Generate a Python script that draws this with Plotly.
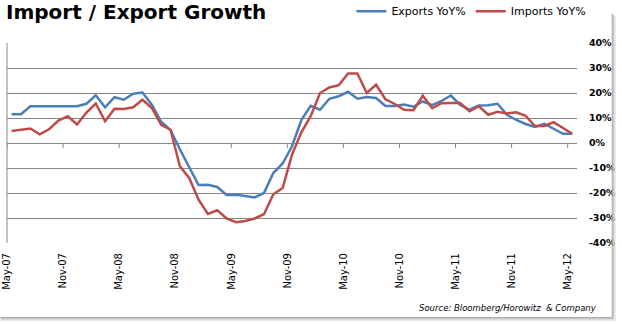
import plotly.graph_objects as go

# Monthly year-over-year growth, May-07 .. May-12
months = ["May-07", "Jun-07", "Jul-07", "Aug-07", "Sep-07", "Oct-07", "Nov-07", "Dec-07",
          "Jan-08", "Feb-08", "Mar-08", "Apr-08", "May-08", "Jun-08", "Jul-08", "Aug-08",
          "Sep-08", "Oct-08", "Nov-08", "Dec-08", "Jan-09", "Feb-09", "Mar-09", "Apr-09",
          "May-09", "Jun-09", "Jul-09", "Aug-09", "Sep-09", "Oct-09", "Nov-09", "Dec-09",
          "Jan-10", "Feb-10", "Mar-10", "Apr-10", "May-10", "Jun-10", "Jul-10", "Aug-10",
          "Sep-10", "Oct-10", "Nov-10", "Dec-10", "Jan-11", "Feb-11", "Mar-11", "Apr-11",
          "May-11", "Jun-11", "Jul-11", "Aug-11", "Sep-11", "Oct-11", "Nov-11", "Dec-11",
          "Jan-12", "Feb-12", "Mar-12", "Apr-12", "May-12"]

exports_yoy = [11.5, 11.5, 14.7, 14.7, 14.8, 14.9, 15.0, 14.7, 15.7, 19.1,
               14.3, 18.3, 17.3, 19.7, 20.2, 15.3, 8.5, 5.2, -2.5, -9.5,
               -16.8, -16.7, -17.6, -20.8, -20.7, -21.2, -21.8, -20.0, -12.0, -8.2,
               -1.3, 9.2, 14.9, 13.3, 17.7, 18.7, 20.5, 17.7, 18.4, 18.0,
               14.8, 14.8, 15.4, 14.5, 16.6, 15.1, 16.8, 19.0, 15.2, 13.3,
               15.0, 15.1, 15.7, 11.3, 9.2, 7.6, 6.4, 7.7, 5.6, 3.7, 3.7]

imports_yoy = [4.8, 5.4, 5.8, 3.5, 5.5, 9.0, 10.7, 7.4, 12.2, 15.8,
               8.7, 13.7, 13.6, 14.3, 17.3, 14.0, 7.3, 5.3, -9.3, -14.0,
               -22.7, -28.4, -26.9, -30.2, -31.7, -31.2, -30.2, -28.5, -20.5, -18.0,
               -4.7, 4.3, 10.7, 20.0, 22.2, 23.1, 27.8, 27.8, 20.0, 23.3,
               17.5, 15.6, 13.3, 13.1, 18.9, 13.9, 15.9, 16.0, 16.0, 12.7,
               14.7, 11.3, 12.5, 11.8, 12.3, 10.9, 6.8, 6.8, 8.3, 6.0, 3.7]

y_ticks = [-40, -30, -20, -10, 0, 10, 20, 30, 40]
label_every = 6

W, H = 622, 324
L, R, T, B = 6.5, 45.3, 43.3, 80.7
PW, PH = W - L - R, H - T - B


def px(x):
    return (x - L) / PW


def py(y):
    return 1 - (y - T) / PH


idx = list(range(len(months)))
tick_pos = [i - 0.5 for i in idx[::label_every]]
tick_txt = months[::label_every]

BLUE = "#4A7EBB"
RED = "#BE4B48"
GRID = "#868686"

fig = go.Figure()
fig.add_trace(go.Scatter(x=idx, y=exports_yoy, mode="lines", name="Exports YoY%",
                         line=dict(color=BLUE, width=2.5)))
fig.add_trace(go.Scatter(x=idx, y=imports_yoy, mode="lines", name="Imports YoY%",
                         line=dict(color=RED, width=2.5)))

shapes = []
# vertical axis line on the left edge of the plot
shapes.append(dict(type="line", xref="paper", yref="paper", x0=0, x1=0, y0=0, y1=1,
                   line=dict(color=GRID, width=1)))
# category tick marks hanging from the 0% line
for t in tick_pos:
    shapes.append(dict(type="line", xref="x", yref="y", ysizemode="pixel", yanchor=0,
                       x0=t, x1=t, y0=0, y1=-5, line=dict(color=GRID, width=1)))

# chart frame with a soft drop shadow on the right and bottom
frame = [(612, "#9c9c9c"), (613, "#bcbcbc"), (614, "#d4d4d4"), (615, "#e8e8e8")]
for k, (xp, col) in enumerate(frame):
    shapes.append(dict(type="line", xref="paper", yref="paper",
                       x0=px(xp), x1=px(xp), y0=py(14 + k), y1=py(318 + k),
                       line=dict(color=col, width=1)))
    shapes.append(dict(type="line", xref="paper", yref="paper",
                       x0=px(0), x1=px(612 + k), y0=py(318 + k), y1=py(318 + k),
                       line=dict(color=col, width=1)))

annotations = [
    dict(text="<b>Import / Export Growth</b>", xref="paper", yref="paper",
         x=px(3), y=py(-2), xanchor="left", yanchor="top", showarrow=False,
         font=dict(family="DejaVu Sans", size=20, color="#000000")),
    dict(text="<i>Source: Bloomberg/Horowitz\u00a0 & Company</i>", xref="paper", yref="paper",
         x=px(599), y=py(308), xanchor="right", yanchor="middle", showarrow=False,
         font=dict(family="DejaVu Sans", size=8.5, color="#000000")),
]

fig.update_layout(
    width=W, height=H,
    margin=dict(l=L, r=R, t=T, b=B, pad=0, autoexpand=False),
    paper_bgcolor="white", plot_bgcolor="white",
    showlegend=True,
    legend=dict(orientation="h", x=px(351), y=py(-3), xanchor="left", yanchor="top",
                font=dict(family="DejaVu Sans", size=11, color="#000000"),
                bgcolor="rgba(0,0,0,0)", borderwidth=0, itemwidth=30),
    xaxis=dict(range=[-0.5, len(months) - 0.5], tickmode="array",
               tickvals=tick_pos, ticktext=tick_txt, tickangle=-90,
               showgrid=False, zeroline=False, showline=False,
               ticks="outside", ticklen=5, tickcolor="rgba(0,0,0,0)",
               tickfont=dict(family="DejaVu Sans", size=10, color="#000000")),
    yaxis=dict(range=[-40, 40], side="right", tickmode="array", tickvals=y_ticks,
               ticktext=[f"{v}%" for v in y_ticks], showgrid=True, gridcolor=GRID,
               gridwidth=1, zeroline=False, showline=False, ticks="outside",
               ticklen=9, tickcolor="rgba(0,0,0,0)",
               tickfont=dict(family="DejaVu Sans", size=9.5, color="#000000",
                             weight="bold")),
    shapes=shapes,
    annotations=annotations,
)

fig.write_html("out.html")
